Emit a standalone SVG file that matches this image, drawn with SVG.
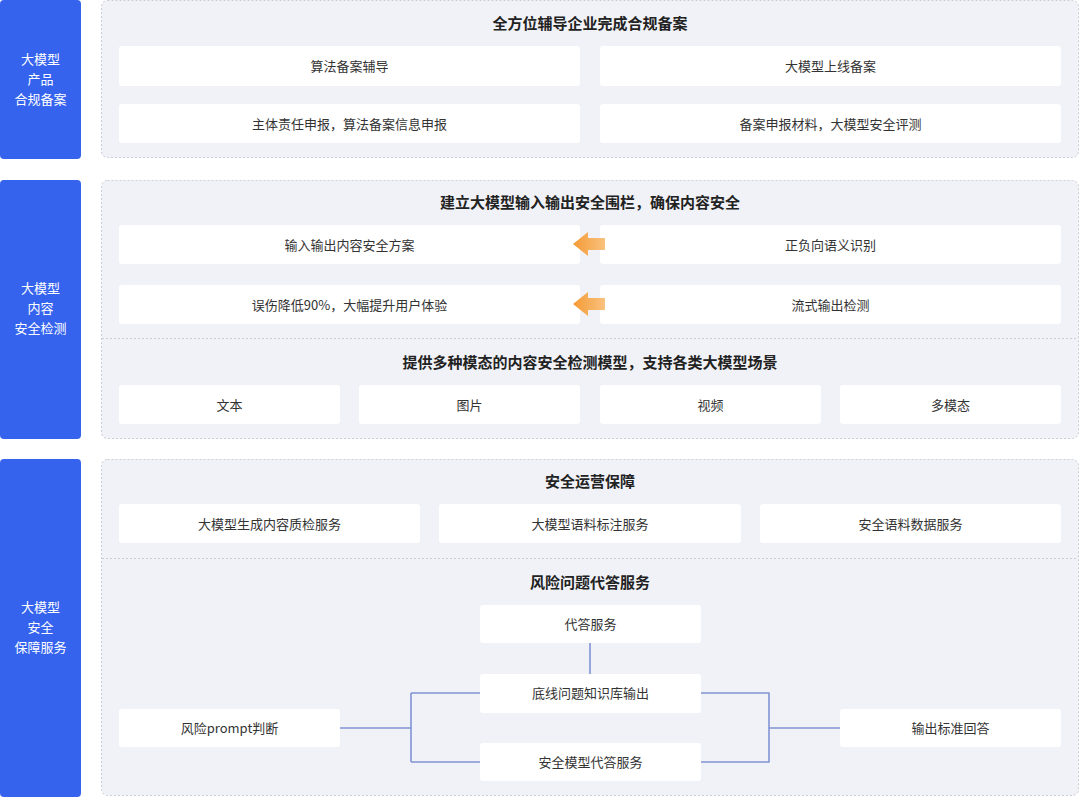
<svg xmlns="http://www.w3.org/2000/svg" width="1080" height="797" viewBox="0 0 1080 797">
<defs>
<style>
.side{fill:#3563ee;}
.sidet{font-family:"Noto Sans CJK SC","Noto Sans",sans-serif;font-size:13px;fill:#ffffff;text-anchor:middle;}
.panel{fill:#f1f2f7;stroke:#c9ccd4;stroke-width:1;stroke-dasharray:2 2;}
.div{stroke:#c9ccd4;stroke-width:1;stroke-dasharray:2 2;fill:none;}
.box{fill:#ffffff;}
.t{font-family:"Noto Sans CJK SC","Noto Sans",sans-serif;font-size:13px;fill:#333333;text-anchor:middle;dominant-baseline:central;}
.h{font-family:"Noto Sans CJK SC","Noto Sans",sans-serif;font-size:15px;font-weight:bold;fill:#222222;text-anchor:middle;dominant-baseline:central;}
.conn{stroke:#8094d4;stroke-width:1.6;fill:none;stroke-linejoin:round;}
</style>
<linearGradient id="og" x1="0" y1="0" x2="1" y2="0">
<stop offset="0" stop-color="#f59a35"/>
<stop offset="1" stop-color="#f9c27e"/>
</linearGradient>
</defs>

<g id="side1"><rect class="side" x="0" y="0" width="81" height="159" rx="4"/>
<text class="sidet" x="40.5" y="64">大模型</text><text class="sidet" x="40.5" y="84">产品</text><text class="sidet" x="40.5" y="104">合规备案</text></g>
<g id="side2"><rect class="side" x="0" y="180" width="81" height="259" rx="4"/>
<text class="sidet" x="40.5" y="293">大模型</text><text class="sidet" x="40.5" y="313">内容</text><text class="sidet" x="40.5" y="333">安全检测</text></g>
<g id="side3"><rect class="side" x="0" y="459" width="81" height="338" rx="4"/>
<text class="sidet" x="40.5" y="612">大模型</text><text class="sidet" x="40.5" y="632">安全</text><text class="sidet" x="40.5" y="652">保障服务</text></g>

<g id="panel1"><rect class="panel" x="101.5" y="0.5" width="977" height="157" rx="6"/>
<text class="h" x="590" y="22">全方位辅导企业完成合规备案</text></g>
<g id="n-suanfa"><rect class="box" x="119" y="46" width="461" height="40" rx="3"/><text class="t" x="349.5" y="65">算法备案辅导</text></g>
<g id="n-shangxian"><rect class="box" x="600" y="46" width="461" height="40" rx="3"/><text class="t" x="830.5" y="65">大模型上线备案</text></g>
<g id="n-zhuti"><rect class="box" x="119" y="104" width="461" height="39" rx="3"/><text class="t" x="349.5" y="123">主体责任申报，算法备案信息申报</text></g>
<g id="n-cailiao"><rect class="box" x="600" y="104" width="461" height="39" rx="3"/><text class="t" x="830.5" y="123">备案申报材料，大模型安全评测</text></g>

<g id="panel2"><rect class="panel" x="101.5" y="180.5" width="977" height="258" rx="6"/>
<line class="div" x1="102" y1="338.5" x2="1078" y2="338.5"/>
<text class="h" x="590" y="201">建立大模型输入输出安全围栏，确保内容安全</text>
<text class="h" x="590" y="361">提供多种模态的内容安全检测模型，支持各类大模型场景</text></g>
<g id="n-fangan"><rect class="box" x="119" y="225" width="461" height="39" rx="3"/><text class="t" x="349.5" y="244">输入输出内容安全方案</text></g>
<g id="n-yuyi"><rect class="box" x="600" y="225" width="461" height="39" rx="3"/><text class="t" x="830.5" y="244">正负向语义识别</text></g>
<g id="n-wushang"><rect class="box" x="119" y="285" width="461" height="39" rx="3"/><text class="t" x="349.5" y="304">误伤降低90%，大幅提升用户体验</text></g>
<g id="n-liushi"><rect class="box" x="600" y="285" width="461" height="39" rx="3"/><text class="t" x="830.5" y="304">流式输出检测</text></g>
<g id="n-wenben"><rect class="box" x="119" y="385" width="221" height="39" rx="3"/><text class="t" x="229.5" y="404">文本</text></g>
<g id="n-tupian"><rect class="box" x="359" y="385" width="221" height="39" rx="3"/><text class="t" x="469.5" y="404">图片</text></g>
<g id="n-shipin"><rect class="box" x="600" y="385" width="221" height="39" rx="3"/><text class="t" x="710.5" y="404">视频</text></g>
<g id="n-duomo"><rect class="box" x="840" y="385" width="221" height="39" rx="3"/><text class="t" x="950.5" y="404">多模态</text></g>

<g id="panel3"><rect class="panel" x="101.5" y="459.5" width="977" height="336" rx="6"/>
<line class="div" x1="102" y1="558.5" x2="1078" y2="558.5"/>
<text class="h" x="590" y="480">安全运营保障</text>
<text class="h" x="590" y="581">风险问题代答服务</text></g>
<g id="n-zhijian"><rect class="box" x="119" y="504" width="301" height="39" rx="3"/><text class="t" x="269.5" y="523">大模型生成内容质检服务</text></g>
<g id="n-biaozhu"><rect class="box" x="439" y="504" width="302" height="39" rx="3"/><text class="t" x="590" y="523">大模型语料标注服务</text></g>
<g id="n-yuliao"><rect class="box" x="760" y="504" width="301" height="39" rx="3"/><text class="t" x="910.5" y="523">安全语料数据服务</text></g>

<g id="connectors">
<path class="conn" d="M340,728 H411 M411,693 V762 M411,693 H480 M411,762 H480"/>
<path class="conn" d="M700,693 H769 V762 H700 M769,728 H840"/>
<path class="conn" d="M590,643 V674"/>
<path fill="url(#og)" d="M573,244 L588,232 V238 H605 V250 H588 V256 Z"/>
<path fill="url(#og)" d="M573,304 L588,292 V298 H605 V310 H588 V316 Z"/>
</g>

<g id="n-daida"><rect class="box" x="480" y="605" width="221" height="38" rx="3"/><text class="t" x="590.5" y="623">代答服务</text></g>
<g id="n-dixian"><rect class="box" x="480" y="674" width="221" height="39" rx="3"/><text class="t" x="590.5" y="692">底线问题知识库输出</text></g>
<g id="n-anquan"><rect class="box" x="480" y="743" width="221" height="38" rx="3"/><text class="t" x="590.5" y="761">安全模型代答服务</text></g>
<g id="n-prompt"><rect class="box" x="119" y="709" width="221" height="38" rx="3"/><text class="t" x="229.5" y="727">风险prompt判断</text></g>
<g id="n-shuchu"><rect class="box" x="840" y="709" width="221" height="38" rx="3"/><text class="t" x="950.5" y="727">输出标准回答</text></g>
</svg>
